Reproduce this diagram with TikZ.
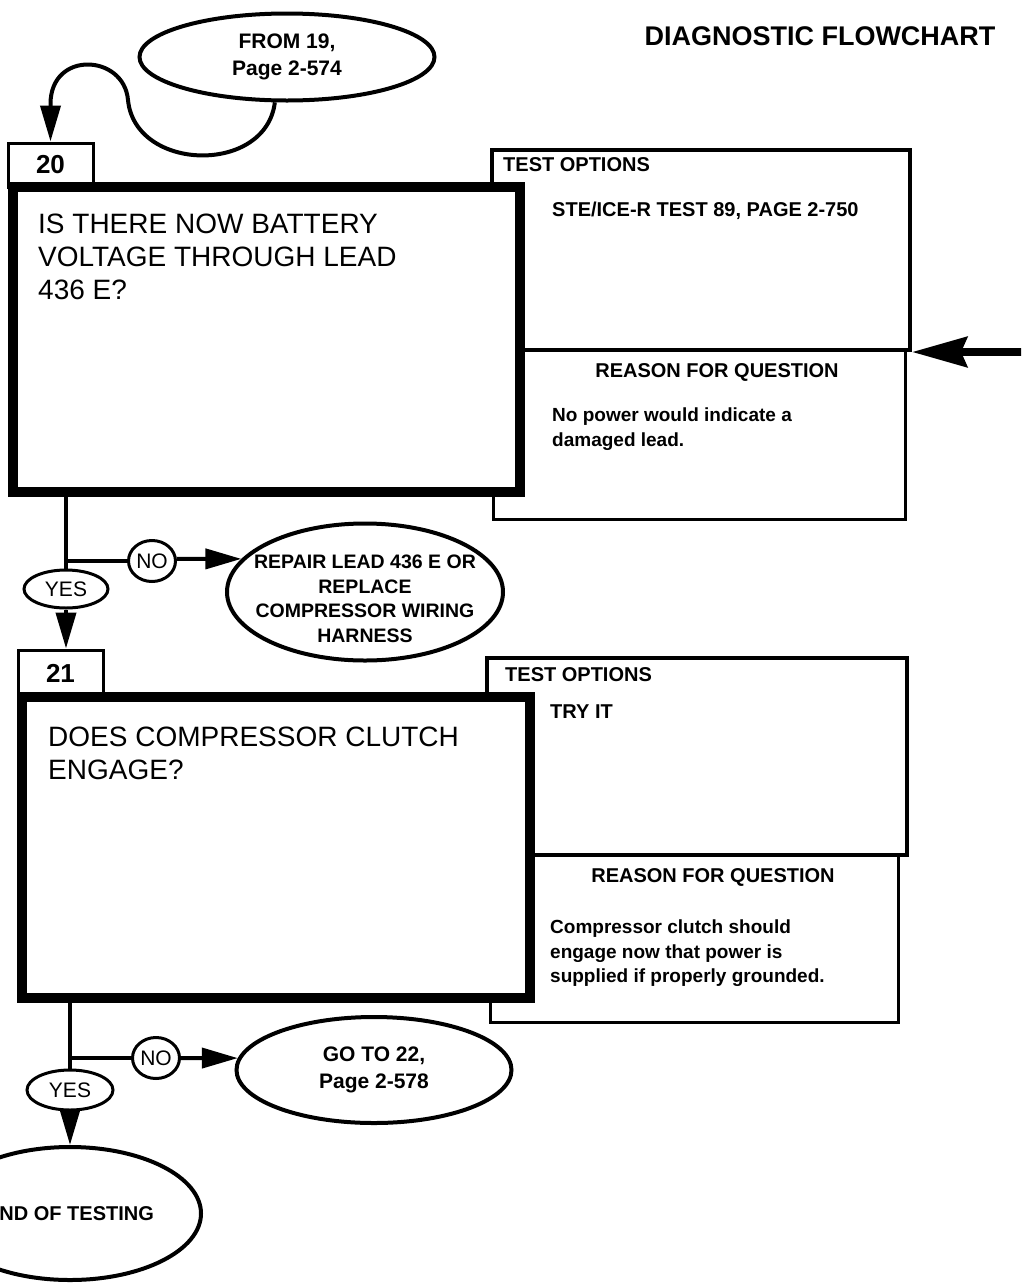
\documentclass[tikz,border=0pt]{standalone}
\usepackage{fontspec}
\setmainfont{Liberation Sans}
\usetikzlibrary{shapes.geometric,arrows.meta,positioning}

\begin{document}
\begin{tikzpicture}[x=1pt, y=-1pt,
    qbox/.style={rectangle, draw, line width=10pt, fill=white},
    qtext/.style={align=left, inner sep=0pt, font=\fontsize{28}{33}\selectfont},
    tab/.style={rectangle, draw, line width=3pt, fill=white, minimum width=85pt, inner sep=0pt, font=\fontsize{26}{26}\selectfont\bfseries},
    opts/.style={rectangle, draw, line width=4pt, fill=white},
    reason/.style={rectangle, draw, line width=3pt, fill=white},
    head/.style={inner sep=0pt, font=\fontsize{20}{20}\selectfont\bfseries},
    body/.style={align=left, inner sep=0pt, font=\fontsize{19}{24.5}\selectfont\bfseries},
    oval/.style={ellipse, draw, line width=4pt, fill=white, inner sep=0pt, align=center, font=\fontsize{21}{27}\selectfont\bfseries},
    yesno/.style={ellipse, draw, line width=3pt, fill=white, inner sep=0pt, font=\fontsize{21}{21}\selectfont},
    conn/.style={line width=4pt},
    arrow/.style={conn, -{Triangle[length=36pt, width=20pt]}},
    bigarrow/.style={line width=8pt, -{Stealth[length=55pt, width=30pt, inset=6pt]}}
]
\useasboundingbox (0,0) rectangle (1021,1283);
\clip (0,0) rectangle (1021,1283);

% Title
\node[font=\fontsize{27}{27}\selectfont\bfseries] (title) at (820,36) {DIAGNOSTIC FLOWCHART};

% Entry
\node[oval, minimum width=295pt, minimum height=87pt] (from19) at (287,57) {FROM 19,\\Page 2-574};

% Step 20 side panel
\node[reason, minimum width=412pt, minimum height=169pt] (reason20) at (699,434.5) {};
\node[opts, minimum width=418pt, minimum height=200pt] (opts20) at (701,250) {};
\node[head, below right=9pt and 13pt of opts20.north west] (opthd20) {TEST OPTIONS};
\node[head, below right=54pt and 62pt of opts20.north west] (optx20) {STE/ICE-R TEST 89, PAGE 2-750};
\node[head] (rsnhd20) at (717,372) {REASON FOR QUESTION};
\node[body, below right=59.5pt and 60.5pt of reason20.north west] (rsnx20) {No power would indicate a\\damaged lead.};
\coordinate (entry20) at (1030,350);

% Step 20
\node[tab, minimum height=44pt] (tab20) at (50.5,165) {20};
\node[qbox, minimum width=507.5pt, minimum height=305pt] (q20) at (266.25,339.5) {};
\node[qtext, below right=32pt and 30.5pt of q20.north west] (qtx20) {IS THERE NOW BATTERY\\VOLTAGE THROUGH LEAD\\436 E?};

% Step 20 answers
\coordinate (br20) at (66,561);
\node[yesno, minimum width=47pt, minimum height=41pt] (no20) at (152,561) {NO};
\node[yesno, minimum width=84pt, minimum height=38pt] (yes20) at (66,589) {YES};
\node[oval, minimum width=276pt, minimum height=137pt] (repair) at (365,592) {};
\node[align=center, inner sep=0pt, font=\fontsize{19.5}{24.5}\selectfont\bfseries] (repairtx) at (365,599) {REPAIR LEAD 436 E OR\\REPLACE\\COMPRESSOR WIRING\\HARNESS};

% Step 21 side panel
\node[reason, minimum width=408pt, minimum height=167pt] (reason21) at (694,938.5) {};
\node[opts, minimum width=420pt, minimum height=197pt] (opts21) at (697,756.5) {};
\node[head, below right=11pt and 20pt of opts21.north west] (opthd21) {TEST OPTIONS};
\node[head, below right=49pt and 65pt of opts21.north west] (optx21) {TRY IT};
\node[head] (rsnhd21) at (713,877) {REASON FOR QUESTION};
\node[body, below right=66.5pt and 61.5pt of reason21.north west] (rsnx21) {Compressor clutch should\\engage now that power is\\supplied if properly grounded.};

% Step 21
\node[tab, minimum height=47pt] (tab21) at (60.5,673.5) {21};
\node[qbox, minimum width=508pt, minimum height=301pt] (q21) at (276,847.5) {};
\node[qtext, below right=35pt and 31pt of q21.north west] (qtx21) {DOES COMPRESSOR CLUTCH\\ENGAGE?};

% Step 21 answers
\coordinate (br21) at (70,1058);
\node[yesno, minimum width=47pt, minimum height=41pt] (no21) at (156,1058) {NO};
\node[yesno, minimum width=86pt, minimum height=40pt] (yes21) at (70,1090) {YES};
\node[oval, minimum width=275pt, minimum height=106pt] (goto22) at (374,1070) {GO TO 22,\\Page 2-578};
\node[oval, minimum width=262pt, minimum height=133pt, font=\fontsize{20}{20}\selectfont\bfseries] (endtest) at (70,1213.5) {END OF TESTING};

% Connectors
\draw[arrow] (from19.255) .. controls (266,175) and (135,172) .. (128,100) .. controls (124,54) and (50.5,50) .. (50.5,104) -- (tab20.north);
\draw[bigarrow] (entry20 |- opts20.south east) -- (opts20.south east);
\draw[conn] (q20.south -| br20) -- (br20) -- (no20);
\draw[conn] (br20) -- (yes20);
\draw[arrow] (no20) -- (repair.165 -| no20.east) -- (repair.165);
\draw[arrow] (yes20) -- (yes20 |- tab21.north);
\draw[conn] (q21.south -| br21) -- (br21) -- (no21);
\draw[conn] (br21) -- (yes21);
\draw[arrow] (no21) -- (goto22.175);
\draw[arrow] (yes21) -- (endtest);

\end{tikzpicture}
\end{document}
